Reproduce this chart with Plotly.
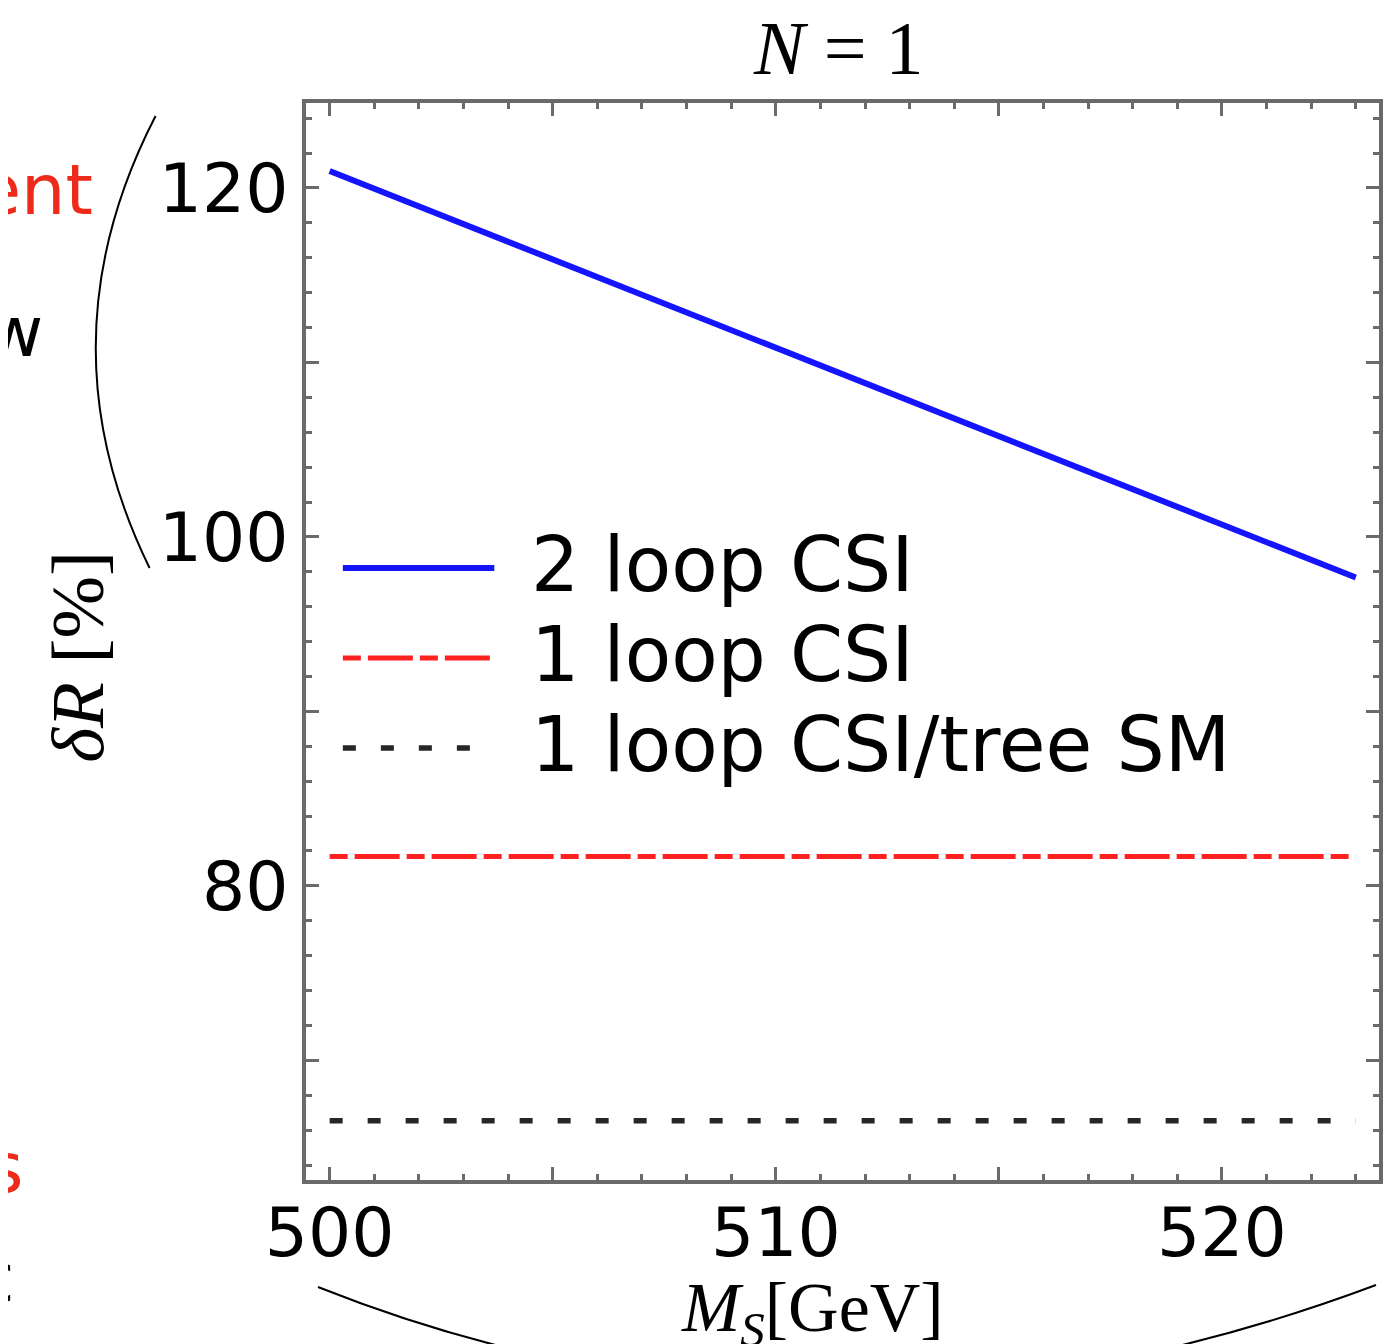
import plotly.graph_objects as go

# ---------------- data ----------------
ms_gev = [500, 505, 510, 515, 520, 523]
two_loop_csi = [120.97, 115.9, 110.85, 105.78, 100.71, 97.67]
one_loop_csi = [81.68, 81.68, 81.68, 81.68, 81.68, 81.68]
one_loop_tree_sm = [66.54, 66.54, 66.54, 66.54, 66.54, 66.54]
series_names = ["2 loop CSI", "1 loop CSI", "1 loop CSI/tree SM"]
x_tickvals = [500, 505, 510, 515, 520]
x_ticktext = ["500", "", "510", "", "520"]
y_tickvals = [70, 80, 90, 100, 110, 120]
y_ticktext = ["", "80", "", "100", "", "120"]

# ---------------- layout geometry (page pixels) ----------------
OFF = 8                      # default page margin of the html body
W, H = 1394 - OFF, 1344 - OFF
L, R, T, B = 306, 1383, 103, 1180


def pxx(x):
    return (x - L) / (R - L)


def pxy(y):
    return (B - y) / (B - T)


SANS = "DejaVu Sans"
SERIF = "Liberation Serif"

styles = [
    dict(color="#1414ff", width=6, dash="solid"),
    dict(color="#ff2020", width=5, dash="18px,7px,45px,7px"),
    dict(color="#262626", width=5.5, dash="13px,25px"),
]

fig = go.Figure()
for name, ys, st in zip(series_names, [two_loop_csi, one_loop_csi, one_loop_tree_sm], styles):
    fig.add_trace(go.Scatter(x=ms_gev, y=ys, mode="lines", name=name,
                             line=st, showlegend=False))

frame = "#6a6a6a"
common = dict(showgrid=False, zeroline=False, showline=True, linecolor=frame, linewidth=3.5,
              mirror="ticks", ticks="inside", ticklen=13, tickwidth=2.5, tickcolor=frame,
              tickfont=dict(family=SANS, size=68, color="black"))
fig.update_xaxes(range=[499.47, 523.52], tickvals=x_tickvals, ticktext=x_ticktext,
                 ticklabelstandoff=-9,
                 minor=dict(dtick=1, ticks="inside", ticklen=6, tickwidth=2.5, tickcolor=frame),
                 **common)
fig.update_yaxes(range=[63.14, 124.87], tickvals=y_tickvals, ticktext=y_ticktext,
                 minor=dict(dtick=2, ticks="inside", ticklen=6, tickwidth=2.5, tickcolor=frame),
                 **common)

annotations = []
shapes = []

# title
annotations.append(dict(text="<i>N</i> = 1", x=pxx(840), y=pxy(48), xref="paper",
                        yref="paper", xanchor="center", yanchor="middle", showarrow=False,
                        font=dict(family=SERIF, size=76, color="black")))
# y axis title
annotations.append(dict(text="<i>δR</i> [%]", x=pxx(76), y=pxy(657), xref="paper", yref="paper",
                        xanchor="center", yanchor="middle", showarrow=False, textangle=-90,
                        font=dict(family=SERIF, size=75, color="black")))
# x axis title
annotations.append(dict(text="<i>M</i><sub><i>S</i></sub>[GeV]", x=pxx(814), y=pxy(1313),
                        xref="paper", yref="paper", xanchor="center", yanchor="middle",
                        showarrow=False, font=dict(family=SERIF, size=70, color="black")))

# legend (manual)
leg_y = [568, 658, 748]
for name, st, yy in zip(series_names, styles, leg_y):
    shapes.append(dict(type="line", xref="paper", yref="paper", x0=pxx(343), x1=pxx(495),
                       y0=pxy(yy), y1=pxy(yy), line=dict(color=st["color"], width=st["width"],
                                                         dash=st["dash"])))
    annotations.append(dict(text=name, x=pxx(530), y=pxy(yy - 4), xref="paper", yref="paper",
                            xanchor="left", yanchor="middle", showarrow=False,
                            font=dict(family=SANS, size=76, color="black")))

# slide decorations around the chart (partial text and brackets)
red = "#ee2a1b"
side_texts = [("ent", 94, 190, red), ("w", 44, 332, "black"), ("s", 24, 1168, red),
              ("c", 16, 1278, "black")]
for txt, xr, yc, col in side_texts:
    annotations.append(dict(text=txt, x=pxx(xr), y=pxy(yc), xref="paper", yref="paper",
                            xanchor="right", yanchor="middle", showarrow=False,
                            font=dict(family=SANS, size=70, color=col)))


def path_px(points):
    (x0, y0), (cx, cy), (x1, y1) = points
    return f"M {pxx(x0)},{pxy(y0)} Q {pxx(cx)},{pxy(cy)} {pxx(x1)},{pxy(y1)}"


shapes.append(dict(type="path", xref="paper", yref="paper",
                   path=path_px([(155, 116), (38, 342), (149, 568)]),
                   line=dict(color="black", width=2)))
shapes.append(dict(type="path", xref="paper", yref="paper",
                   path=path_px([(318, 1287), (830, 1490), (1380, 1285)]),
                   line=dict(color="black", width=2)))

fig.update_layout(width=W, height=H,
                  margin=dict(l=L - OFF, r=W - (R - OFF), t=T - OFF, b=H - (B - OFF)),
                  plot_bgcolor="white", paper_bgcolor="white",
                  annotations=annotations, shapes=shapes, showlegend=False)

fig.write_html("out.html")
